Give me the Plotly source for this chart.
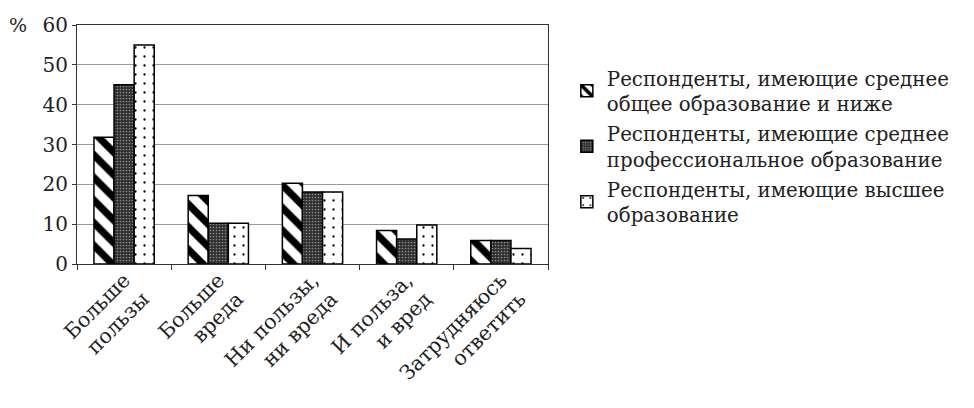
import plotly.graph_objects as go

categories = ["Больше<br>пользы", "Больше<br>вреда", "Ни пользы,<br>ни вреда", "И польза,<br>и вред", "Затрудняюсь<br>ответить"]
series_names = [
    "Респонденты, имеющие среднее<br>общее образование и ниже",
    "Респонденты, имеющие среднее<br>профессиональное образование",
    "Респонденты, имеющие высшее<br>образование",
]
general_secondary = [31.8, 17.2, 20.3, 8.4, 5.9]
vocational = [45.0, 10.2, 18.1, 6.3, 5.9]
higher = [55.0, 10.2, 18.1, 9.8, 3.9]
y_ticks = [0, 10, 20, 30, 40, 50, 60]

FONT = "'DejaVu Serif', 'Liberation Serif', serif"

fig = go.Figure()
fig.add_bar(
    x=categories, y=general_secondary, name=series_names[0], legendgroup="a",
    marker=dict(color="white", line=dict(color="black", width=1.5),
                pattern=dict(shape="\\", fgcolor="black", bgcolor="white", fgopacity=1,
                             size=16, solidity=0.45)),
)
fig.add_bar(
    x=categories, y=vocational, name=series_names[1], legendgroup="b",
    marker=dict(color="#333333", line=dict(color="black", width=1.5),
                pattern=dict(shape=".", fgcolor="#8c8c8c", bgcolor="#2e2e2e", fgopacity=1,
                             size=3, solidity=0.25)),
)
fig.add_bar(
    x=categories, y=higher, name=series_names[2], legendgroup="c",
    marker=dict(color="white", line=dict(color="black", width=1.5),
                pattern=dict(shape=".", fgcolor="black", bgcolor="white", fgopacity=1,
                             size=9, solidity=0.05)),
)

fig.update_layout(
    width=974, height=408,
    margin=dict(l=77, r=426, t=25, b=144, autoexpand=False),
    paper_bgcolor="white", plot_bgcolor="white",
    barmode="group", bargap=0.36, bargroupgap=0,
    font=dict(family=FONT, color="#222222", size=17),
    showlegend=True,
    legend=dict(x=1.04, y=0.86, xanchor="left", yanchor="top",
                font=dict(family=FONT, size=19.8, color="#222222"),
                itemwidth=30, tracegroupgap=1, bgcolor="rgba(0,0,0,0)"),
    annotations=[dict(text="%", x=-0.125, y=1.0, xref="paper", yref="paper",
                      xanchor="center", yanchor="middle", showarrow=False,
                      font=dict(family=FONT, size=19, color="#222222"))],
)
fig.update_xaxes(
    tickangle=-45, tickfont=dict(family=FONT, size=20.5, color="#222222"),
    showline=True, linecolor="#333333", linewidth=1.2, mirror=True, automargin=False,
    ticks="outside", tickson="boundaries", ticklen=5, tickcolor="#333333",
    ticklabelstandoff=-5,
)
fig.update_yaxes(
    range=[0, 60], tickvals=y_ticks, ticktext=[str(v) for v in y_ticks],
    tickfont=dict(family=FONT, size=20, color="#222222"), automargin=False,
    showgrid=True, gridcolor="#9a9a9a", gridwidth=1,
    showline=True, linecolor="#333333", linewidth=1.2, mirror=True,
    ticks="outside", ticklen=4, tickcolor="#333333", zeroline=False,
)

fig.write_html("out.html", config={"displayModeBar": False},
               post_script="document.body.style.margin='0';")
